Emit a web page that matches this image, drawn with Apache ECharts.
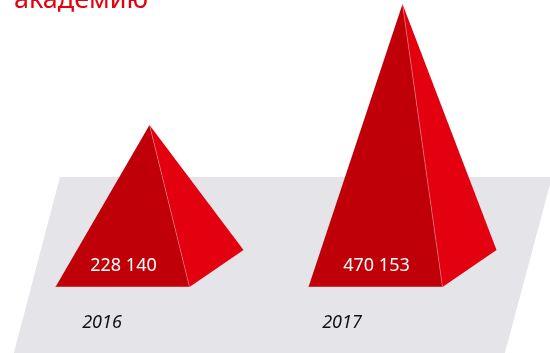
<!DOCTYPE html>
<html>
<head>
<meta charset="utf-8">
<style>
  html, body { margin: 0; padding: 0; background: #ffffff; }
  #chart { width: 550px; height: 353px; }
</style>
<script src="https://cdn.jsdelivr.net/npm/echarts@6/dist/echarts.min.js"></script>
</head>
<body>
<div id="chart"></div>
<script>
// Heading fragment shown at the top edge
const titleText = 'академию';

// Years and the number for each year
const years = ['2016', '2017'];
const students = [228140, 470153];

// Value axis range (the pyramids stand on the bottom of the axis)
const valueMin = -96000;
const valueMax = 474000;

const fontFamily = '"Noto Sans", "DejaVu Sans", sans-serif';

function formatThousands(v) {
  return String(v).replace(/\B(?=(\d{3})+(?!\d))/g, ' ');
}

const chart = echarts.init(document.getElementById('chart'), null, { renderer: 'canvas' });

const FRONT_HALF = 67;   // half width of the front base edge
const DEPTH_X = 54;      // receding base edge, horizontal
const DEPTH_Y = -37;     // receding base edge, vertical

function renderPyramid(params, api) {
  const idx = api.value(0);
  const val = api.value(1);
  const top = api.coord([idx, val]);
  const base = api.coord([idx, valueMin]);
  const cx = base[0];
  const by = base[1];
  const apex = [cx + DEPTH_X / 2, top[1]];
  const fl = [cx - FRONT_HALF, by];
  const fr = [cx + FRONT_HALF, by];
  const br = [cx + FRONT_HALF + DEPTH_X, by + DEPTH_Y];
  return {
    type: 'group',
    children: [
      {
        type: 'polygon',
        shape: { points: [apex, fr, br] },
        style: { fill: '#e3000f' }
      },
      {
        type: 'polygon',
        shape: { points: [apex, fl, fr] },
        style: { fill: '#c00008' }
      },
      {
        type: 'line',
        shape: { x1: apex[0], y1: apex[1], x2: fr[0], y2: fr[1] },
        style: { stroke: 'rgba(255,160,170,0.55)', lineWidth: 0.8 }
      },
      {
        type: 'line',
        shape: { x1: fl[0], y1: fl[1] - 0.5, x2: fr[0], y2: fr[1] - 0.5 },
        style: { stroke: 'rgba(230,80,90,0.6)', lineWidth: 1 }
      },
      {
        type: 'text',
        x: cx + 1,
        y: by - 21,
        style: {
          text: formatThousands(val),
          fill: '#ffffff',
          font: '18px ' + fontFamily,
          align: 'center',
          verticalAlign: 'middle'
        }
      }
    ]
  };
}

chart.setOption({
  animation: false,
  backgroundColor: '#ffffff',
  graphic: [
    {
      type: 'polygon',
      z: 0,
      shape: { points: [[60, 177], [552, 177], [503, 360], [12, 360]] },
      style: { fill: '#e4e4e9' }
    },
    {
      type: 'text',
      z: 5,
      x: 14,
      y: 0,
      style: {
        text: titleText,
        fill: '#e3000f',
        font: '27px ' + fontFamily,
        verticalAlign: 'middle'
      }
    }
  ],
  grid: [
    { left: -4, width: 506, top: 2, bottom: 66, containLabel: false, outerBoundsMode: 'none' },
    { left: -18, width: 480, top: 200, bottom: 48, containLabel: false, outerBoundsMode: 'none' }
  ],
  xAxis: [
    {
      gridIndex: 0,
      type: 'category',
      data: years,
      show: false
    },
    {
      gridIndex: 1,
      type: 'category',
      data: years,
      axisLine: { show: false },
      axisTick: { show: false },
      axisLabel: {
        margin: 9,
        color: '#111111',
        fontSize: 18,
        fontStyle: 'italic',
        fontFamily: fontFamily
      }
    }
  ],
  yAxis: [
    { gridIndex: 0, type: 'value', min: valueMin, max: valueMax, show: false },
    { gridIndex: 1, type: 'value', show: false }
  ],
  series: [
    {
      type: 'custom',
      xAxisIndex: 0,
      yAxisIndex: 0,
      z: 3,
      renderItem: renderPyramid,
      data: students.map((v, i) => [i, v])
    }
  ]
});
</script>
</body>
</html>
